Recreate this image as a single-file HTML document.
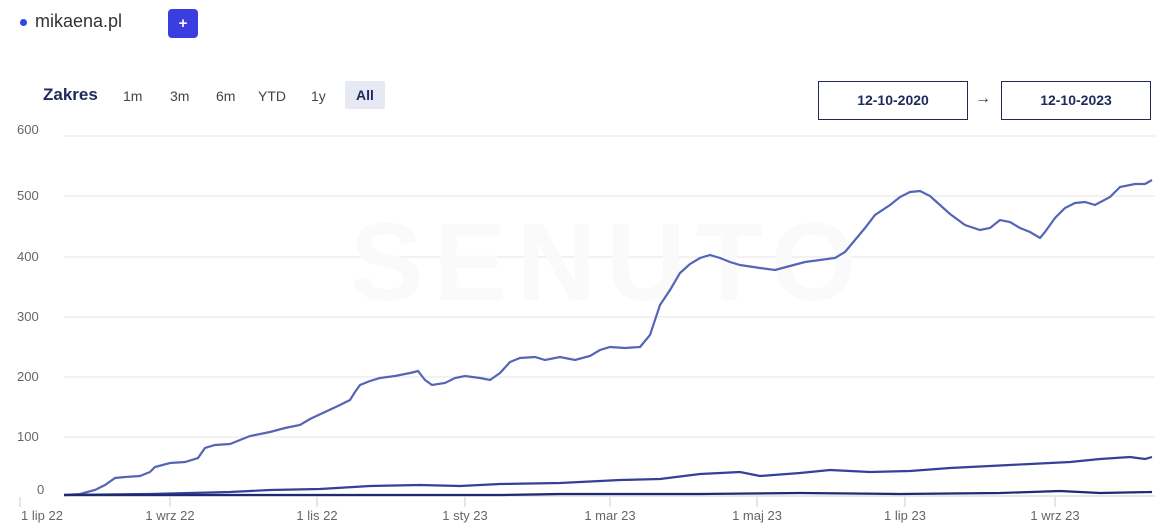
<!DOCTYPE html>
<html><head><style>
body{margin:0;width:1163px;height:525px;background:#fff;font-family:"Liberation Sans",sans-serif;overflow:hidden;position:relative}
.t{position:absolute;white-space:nowrap}
.btn{position:absolute;border:1.5px solid #1f2a5a;font-weight:bold;font-size:14px;color:#1f2a5a;text-align:center;line-height:37px;height:37px}
</style></head><body>
<div class="t" style="left:20px;top:19px;width:7px;height:7px;border-radius:50%;background:#3346e0"></div>
<div class="t" style="left:35px;top:11px;font-size:18px;color:#333">mikaena.pl</div>
<div class="t" style="left:168px;top:9px;width:30px;height:29px;border-radius:4px;background:#3a3de0;color:#fff;font-weight:bold;text-align:center;line-height:29px;font-size:15px">+</div>
<div class="t" style="left:43px;top:85px;font-size:17px;font-weight:bold;color:#1f2a5a">Zakres</div>
<div class="t" style="left:123px;top:88px;font-size:14px;color:#444">1m</div>
<div class="t" style="left:170px;top:88px;font-size:14px;color:#444">3m</div>
<div class="t" style="left:216px;top:88px;font-size:14px;color:#444">6m</div>
<div class="t" style="left:258px;top:88px;font-size:14px;color:#444">YTD</div>
<div class="t" style="left:311px;top:88px;font-size:14px;color:#444">1y</div>
<div class="t" style="left:345px;top:81px;width:40px;height:28px;background:#e6e9f4;border-radius:2px;font-size:14px;font-weight:bold;color:#1f2a5a;text-align:center;line-height:28px">All</div>
<div class="btn" style="left:818px;top:81px;width:148px">12-10-2020</div>
<div class="t" style="left:975px;top:90px;font-size:16px;color:#333">→</div>
<div class="btn" style="left:1001px;top:81px;width:148px">12-10-2023</div>
<svg width="1163" height="525" style="position:absolute;left:0;top:0">
<g stroke="#e6e6e6" stroke-width="1">
<line x1="64" x2="1155" y1="136" y2="136"/><line x1="64" x2="1155" y1="196" y2="196"/><line x1="64" x2="1155" y1="257" y2="257"/><line x1="64" x2="1155" y1="317" y2="317"/><line x1="64" x2="1155" y1="377" y2="377"/><line x1="64" x2="1155" y1="437" y2="437"/>
</g>
<line x1="64" x2="1155" y1="496" y2="496" stroke="#ccd" />
<g fill="#666" font-size="13" font-family="Liberation Sans">
<text x="17" y="134">600</text><text x="17" y="200">500</text><text x="17" y="261">400</text><text x="17" y="321">300</text><text x="17" y="381">200</text><text x="17" y="441">100</text><text x="37" y="494">0</text>
</g>
<g stroke="#ccc"><line x1="20" x2="20" y1="497" y2="507"/><line x1="170" x2="170" y1="497" y2="507"/><line x1="317" x2="317" y1="497" y2="507"/><line x1="465" x2="465" y1="497" y2="507"/><line x1="610" x2="610" y1="497" y2="507"/><line x1="757" x2="757" y1="497" y2="507"/><line x1="905" x2="905" y1="497" y2="507"/><line x1="1055" x2="1055" y1="497" y2="507"/></g>
<g fill="#666" font-size="13" font-family="Liberation Sans" text-anchor="middle">
<text x="42" y="520">1 lip 22</text><text x="170" y="520">1 wrz 22</text><text x="317" y="520">1 lis 22</text><text x="465" y="520">1 sty 23</text><text x="610" y="520">1 mar 23</text><text x="757" y="520">1 maj 23</text><text x="905" y="520">1 lip 23</text><text x="1055" y="520">1 wrz 23</text>
</g>
<text x="350" y="300" font-size="110" font-weight="bold" fill="#fafafb" font-family="Liberation Sans" letter-spacing="10">SENUTO</text>
<polyline fill="none" stroke="#5565b5" stroke-width="2.2" points="64,495 80,494 95,490 105,485 115,478 125,477 140,476 150,472 155,467 170,463 185,462 198,458 205,448 215,445 230,444 240,440 250,436 270,432 285,428 300,425 310,419 325,412 340,405 350,400 355,392 360,385 370,381 380,378 395,376 410,373 418,371 425,380 432,385 445,383 455,378 465,376 480,378 490,380 500,373 510,362 520,358 535,357 545,360 560,357 575,360 590,356 600,350 610,347 625,348 640,347 650,335 660,305 670,290 680,273 690,264 700,258 710,255 720,258 730,262 740,265 760,268 775,270 790,266 805,262 820,260 835,258 845,252 855,240 865,228 875,215 890,205 900,197 910,192 920,191 930,196 940,205 950,214 965,225 980,230 990,228 1000,220 1010,222 1020,228 1030,232 1040,238 1045,232 1055,218 1065,208 1075,203 1085,202 1095,205 1110,197 1120,187 1135,184 1145,184 1152,180"/>
<polyline fill="none" stroke="#34409a" stroke-width="2.2" points="64,495 150,494 230,492 270,490 320,489 370,486 420,485 460,486 500,484 560,483 620,480 660,479 700,474 740,472 760,476 800,473 830,470 870,472 910,471 950,468 990,466 1030,464 1070,462 1100,459 1130,457 1145,459 1152,457"/>
<polyline fill="none" stroke="#1f2a70" stroke-width="2.2" points="64,495 500,495 560,494 700,494 800,493 900,494 1000,493 1060,491 1100,493 1152,492"/>
</svg>
</body></html>
